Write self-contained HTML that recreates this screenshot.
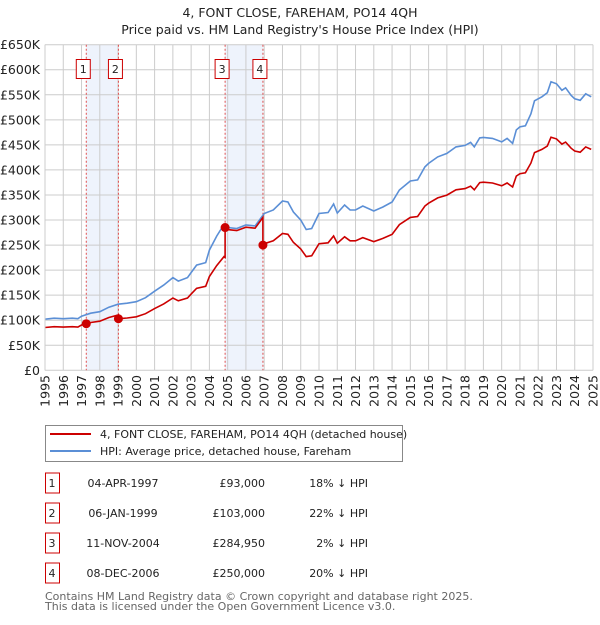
<!DOCTYPE html>
<html><head><meta charset="utf-8"><style>
body{margin:0;background:#fff;font-family:"Liberation Sans","DejaVu Sans",sans-serif;}
svg text{font-family:"DejaVu Sans","Liberation Sans",sans-serif;}
</style></head><body>
<svg id="chart" width="600" height="620" viewBox="0 0 600 620" xmlns="http://www.w3.org/2000/svg">
<text x="300" y="17" text-anchor="middle" font-size="12.5" fill="#222">4, FONT CLOSE, FAREHAM, PO14 4QH</text>
<text x="300" y="34" text-anchor="middle" font-size="12.5" fill="#222">Price paid vs. HM Land Registry's House Price Index (HPI)</text>
<g id="bands"></g><g id="grid"></g><g id="vlines"></g><g id="series"></g><g id="marks"></g><g id="axes"></g>
<g>
<rect x="45.5" y="425.5" width="357" height="36" fill="#fff" stroke="#888"/>
<line x1="50" y1="434" x2="91" y2="434" stroke="#cc0000" stroke-width="2"/>
<text x="100" y="438" font-size="11" fill="#222">4, FONT CLOSE, FAREHAM, PO14 4QH (detached house)</text>
<line x1="50" y1="451" x2="91" y2="451" stroke="#5b8fd6" stroke-width="2"/>
<text x="100" y="455" font-size="11" fill="#222">HPI: Average price, detached house, Fareham</text>
</g>
<g id="table"></g>
<text x="45" y="600" font-size="11" fill="#666">Contains HM Land Registry data © Crown copyright and database right 2025.</text>
<text x="45" y="610" font-size="11" fill="#666">This data is licensed under the Open Government Licence v3.0.</text>
</svg>
<script>
const hpiYears=[1995,1995.5,1996,1996.5,1996.8,1997,1997.5,1998,1998.5,1999,1999.5,2000,2000.5,2001,2001.5,2002,2002.3,2002.8,2003,2003.3,2003.8,2004,2004.4,2004.8,2005,2005.5,2006,2006.5,2007,2007.5,2008,2008.3,2008.6,2009,2009.3,2009.6,2010,2010.5,2010.8,2011,2011.4,2011.7,2012,2012.4,2013,2013.5,2014,2014.4,2014.8,2015,2015.4,2015.8,2016,2016.5,2017,2017.5,2018,2018.3,2018.5,2018.8,2019,2019.5,2020,2020.3,2020.6,2020.8,2021,2021.3,2021.6,2021.8,2022.2,2022.5,2022.7,2023,2023.3,2023.5,2023.8,2024,2024.3,2024.6,2024.9];
const hpiValues=[102,104,103,104,103,108,114,117,126,132,134,137,145,158,170,185,178,185,195,210,215,240,268,291,285,283,290,288,313,320,338,336,316,300,281,283,313,315,332,314,330,320,320,328,318,326,336,360,372,378,380,406,413,426,433,446,449,455,446,464,465,463,456,463,453,480,486,488,512,538,546,554,576,572,559,564,549,542,539,552,546];
const saleDates=[1997.26,1999.02,2004.86,2006.93];
const salePrices=[93000,103000,284950,250000];
const saleLabels=["1","2","3","4"];
const saleDateText=["04-APR-1997","06-JAN-1999","11-NOV-2004","08-DEC-2006"];
const salePriceText=["£93,000","£103,000","£284,950","£250,000"];
const saleDiffText=["18% ↓ HPI","22% ↓ HPI","2% ↓ HPI","20% ↓ HPI"];
const yTicks=[0,50,100,150,200,250,300,350,400,450,500,550,600,650];
const yTickLabels=["£0","£50K","£100K","£150K","£200K","£250K","£300K","£350K","£400K","£450K","£500K","£550K","£600K","£650K"];
const xTicks=[1995,1996,1997,1998,1999,2000,2001,2002,2003,2004,2005,2006,2007,2008,2009,2010,2011,2012,2013,2014,2015,2016,2017,2018,2019,2020,2021,2022,2023,2024,2025];

const NS="http://www.w3.org/2000/svg";
const X0=45,X1=593,Y0=370.3,Y1=44.7;
const xs=t=>X0+(t-1995)/30*(X1-X0);
const ys=k=>Y0-k/650*(Y0-Y1);
function mk(tag,attrs,parent){const e=document.createElementNS(NS,tag);for(const k in attrs)e.setAttribute(k,attrs[k]);document.getElementById(parent).appendChild(e);return e;}
function hpiAt(t){for(let i=0;i<hpiYears.length-1;i++){if(t<=hpiYears[i+1]){const f=(t-hpiYears[i])/(hpiYears[i+1]-hpiYears[i]);return hpiValues[i]+f*(hpiValues[i+1]-hpiValues[i]);}}return hpiValues[hpiValues.length-1];}

// bands
[[0,1],[2,3]].forEach(p=>{const r=mk('rect',{x:xs(saleDates[p[0]]),y:Y1,width:xs(saleDates[p[1]])-xs(saleDates[p[0]]),height:Y0-Y1,fill:'#eef3fc'},'bands');

});
// grid
yTicks.forEach((v,i)=>{const l=mk('line',{x1:X0,x2:X1,y1:ys(v),y2:ys(v),stroke:'#cccccc','stroke-width':1},'grid');


const t=mk('text',{x:40,y:ys(v)+4.5,'text-anchor':'end','font-size':12.5,fill:'#222'},'axes');t.textContent=yTickLabels[i];

});
xTicks.forEach(v=>{const l=mk('line',{x1:xs(v),x2:xs(v),y1:Y1,y2:Y0,stroke:'#cccccc','stroke-width':1},'grid');


const t=mk('text',{x:0,y:0,'text-anchor':'end','font-size':12.5,fill:'#222',transform:`translate(${xs(v)+4.5},375) rotate(-90)`},'axes');t.textContent=v;

});
// vlines
saleDates.forEach((d,i)=>{const l=mk('line',{x1:xs(d),x2:xs(d),y1:Y1,y2:Y0,stroke:'#e05050','stroke-width':1,'stroke-dasharray':'2,2'},'vlines');


const b=mk('rect',{x:xs(d)-10,y:59.5,width:14,height:19,fill:'#fff',stroke:'#cc0000'},'vlines');


const t=mk('text',{x:xs(d)-3,y:73,'text-anchor':'middle','font-size':11,fill:'#222'},'vlines');t.textContent=saleLabels[i];

});
// hpi line
let d='';hpiYears.forEach((t,i)=>{d+=(i?'L':'M')+xs(t).toFixed(1)+','+ys(hpiValues[i]).toFixed(1);});
const hp=mk('path',{d:d,fill:'none',stroke:'#5b8fd6','stroke-width':1.6},'series');


// property line: HPI scaled by last sale's ratio
function ratioAt(t){let k=0;for(let i=0;i<saleDates.length;i++)if(t>=saleDates[i])k=i;return salePrices[k]/1000/hpiAt(saleDates[k]);}
const pts=[];hpiYears.forEach((t,i)=>{pts.push([t,hpiValues[i]]);});
saleDates.forEach(s=>{pts.push([s-0.001,hpiAt(s)]);pts.push([s,hpiAt(s)]);});
pts.sort((a,b)=>a[0]-b[0]);
let d2='';pts.forEach((p,i)=>{d2+=(i?'L':'M')+xs(p[0]).toFixed(1)+','+ys(p[1]*ratioAt(p[0])).toFixed(1);});
const pp=mk('path',{d:d2,fill:'none',stroke:'#cc0000','stroke-width':1.6},'series');


saleDates.forEach((s,i)=>{const c=mk('circle',{cx:xs(s),cy:ys(salePrices[i]/1000),r:4.5,fill:'#cc0000'},'marks');

});
// axis frame
mk('line',{x1:X0,x2:X0,y1:Y1,y2:Y0,stroke:'#ccc'},'axes');
// table
saleLabels.forEach((lab,i)=>{const cy=483+i*30;
const b=mk('rect',{x:45.5,y:cy-10,width:14,height:20,fill:'#fff',stroke:'#cc0000'},'table');


const cells=[[52,'middle',lab,'table-number'],[123,'middle',saleDateText[i],'table-date'],[265,'end',salePriceText[i],'table-price'],[368,'end',saleDiffText[i],'table-hpi-diff']];
cells.forEach(c=>{const t=mk('text',{x:c[0],y:cy+4,'text-anchor':c[1],'font-size':11,fill:'#222'},'table');t.textContent=c[2];

});});
</script>
</body></html>
